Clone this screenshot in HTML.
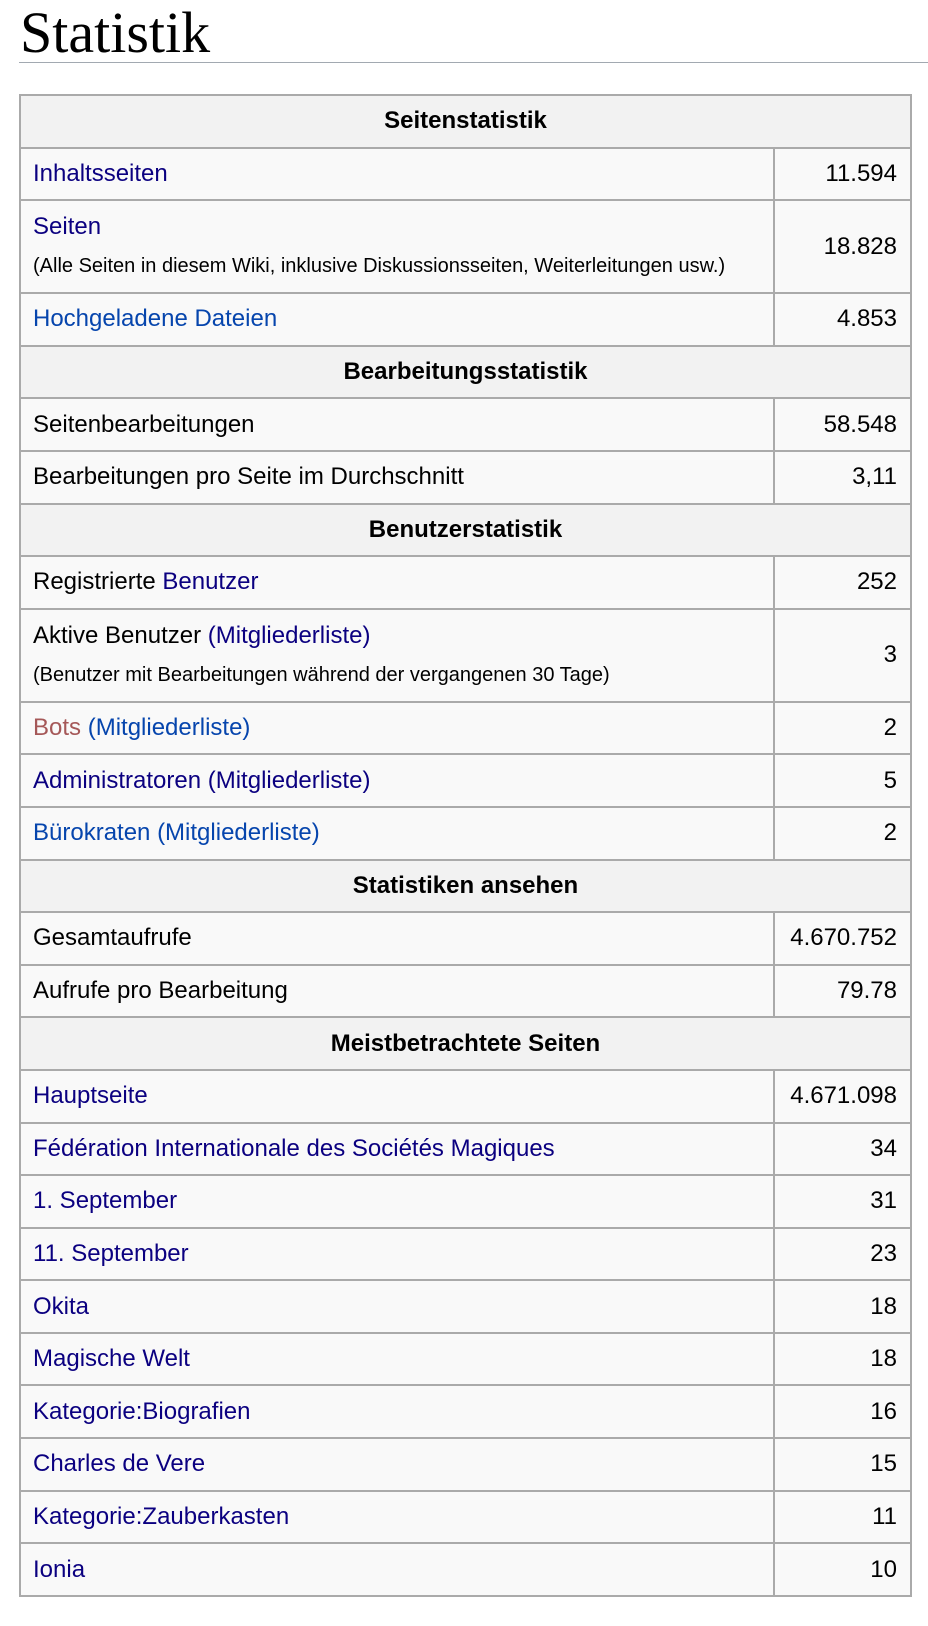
<!DOCTYPE html>
<html><head><meta charset="utf-8"><style>
body{margin:0;background:#fff;width:928px;height:1626px;overflow:hidden;font-family:"Liberation Sans",Arial,sans-serif;}
h1{position:absolute;left:20px;top:3px;margin:0;font-family:"Liberation Serif",serif;font-weight:normal;font-size:58px;line-height:60px;color:#000;}
.hr{position:absolute;left:19px;top:62px;width:909px;height:1px;background:#a2a9b1;}
table{position:absolute;left:19px;top:94px;width:893px;border-collapse:collapse;font-size:24px;color:#000;}
td,th{border:2px solid #aaa;background:#f9f9f9;padding:0 12px;height:50.6px;}
th{background:#f2f2f2;font-weight:bold;text-align:center;height:50.6px;}
td.n{text-align:right;width:110px;padding-right:13px;}
td.t{height:91px;line-height:38px;}
small{font-size:20px;}
.a{color:#0b0080}.b{color:#0645ad}.r{color:#a55858}
</style></head><body>
<h1>Statistik</h1><div class="hr"></div>
<table>
<tr><th colspan="2">Seitenstatistik</th></tr>
<tr><td class="a">Inhaltsseiten</td><td class="n">11.594</td></tr>
<tr><td class="t"><span class="a">Seiten</span><br><small>(Alle Seiten in diesem Wiki, inklusive Diskussionsseiten, Weiterleitungen usw.)</small></td><td class="n">18.828</td></tr>
<tr><td class="b">Hochgeladene Dateien</td><td class="n">4.853</td></tr>
<tr><th colspan="2">Bearbeitungsstatistik</th></tr>
<tr><td>Seitenbearbeitungen</td><td class="n">58.548</td></tr>
<tr><td>Bearbeitungen pro Seite im Durchschnitt</td><td class="n">3,11</td></tr>
<tr><th colspan="2">Benutzerstatistik</th></tr>
<tr><td>Registrierte <span class="a">Benutzer</span></td><td class="n">252</td></tr>
<tr><td class="t">Aktive Benutzer <span class="a">(Mitgliederliste)</span><br><small>(Benutzer mit Bearbeitungen während der vergangenen 30 Tage)</small></td><td class="n">3</td></tr>
<tr><td><span class="r">Bots</span> <span class="b">(Mitgliederliste)</span></td><td class="n">2</td></tr>
<tr><td class="a">Administratoren (Mitgliederliste)</td><td class="n">5</td></tr>
<tr><td class="b">Bürokraten (Mitgliederliste)</td><td class="n">2</td></tr>
<tr><th colspan="2">Statistiken ansehen</th></tr>
<tr><td>Gesamtaufrufe</td><td class="n">4.670.752</td></tr>
<tr><td>Aufrufe pro Bearbeitung</td><td class="n">79.78</td></tr>
<tr><th colspan="2">Meistbetrachtete Seiten</th></tr>
<tr><td class="a">Hauptseite</td><td class="n">4.671.098</td></tr>
<tr><td class="a">Fédération Internationale des Sociétés Magiques</td><td class="n">34</td></tr>
<tr><td class="a">1. September</td><td class="n">31</td></tr>
<tr><td class="a">11. September</td><td class="n">23</td></tr>
<tr><td class="a">Okita</td><td class="n">18</td></tr>
<tr><td class="a">Magische Welt</td><td class="n">18</td></tr>
<tr><td class="a">Kategorie:Biografien</td><td class="n">16</td></tr>
<tr><td class="a">Charles de Vere</td><td class="n">15</td></tr>
<tr><td class="a">Kategorie:Zauberkasten</td><td class="n">11</td></tr>
<tr><td class="a">Ionia</td><td class="n">10</td></tr>
</table>
</body></html>
